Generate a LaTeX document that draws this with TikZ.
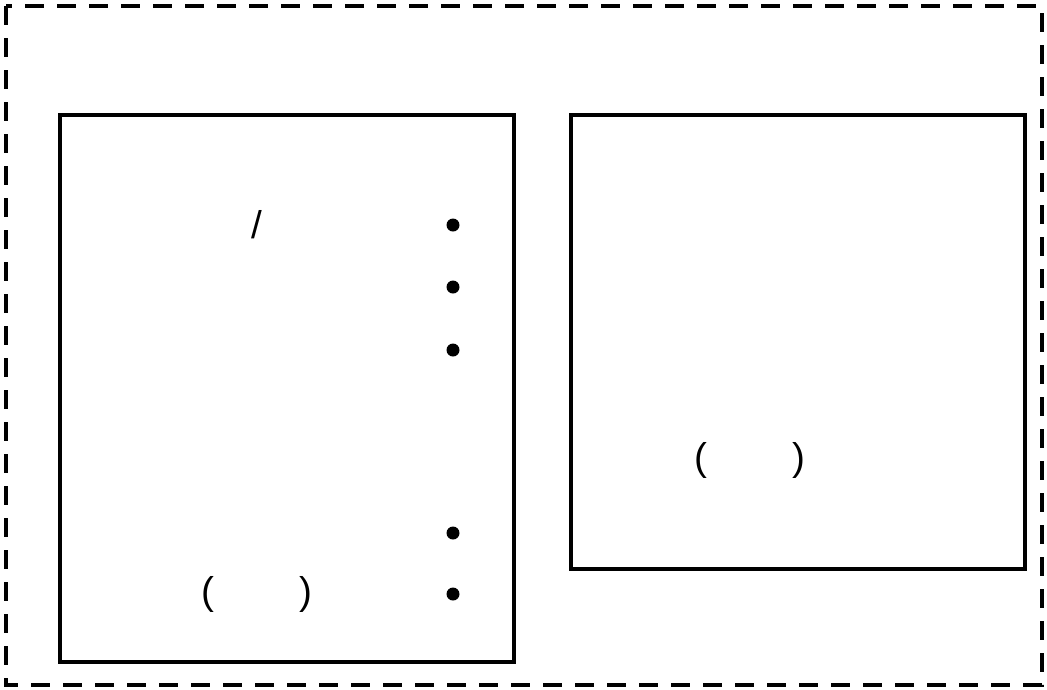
\documentclass[tikz,border=0pt]{standalone}
\usepackage{fontspec}
\setmainfont{Liberation Sans}
\usetikzlibrary{calc}

\begin{document}
\begin{tikzpicture}[line width=1.3pt, font=\fontsize{11}{13}\selectfont]

\useasboundingbox (0, 0) rectangle (10.47, -6.89);

% outer frame
\draw [dash pattern=on 0.19cm off 0.13cm] (0.06, -0.06) rectangle (10.42, -6.85);

% boxes
\draw (0.60, -1.15) rectangle (5.14, -6.62);
\draw (5.71, -1.15) rectangle (10.25, -5.69);

% left box text
\node (slash) at (2.57, -2.25) {/};
\node (parl) at (2.57, -5.94) {(\hspace{0.86cm})};

% bullets
\def\r{0.065}
\foreach \y/\n in {2.25/a, 2.87/b, 3.50/c, 5.33/d, 5.94/e}
    \fill (4.53, -\y) coordinate (dot\n) circle (\r);

% right box text
\node (parr) at (7.50, -4.60) {(\hspace{0.86cm})};

\end{tikzpicture}
\end{document}
